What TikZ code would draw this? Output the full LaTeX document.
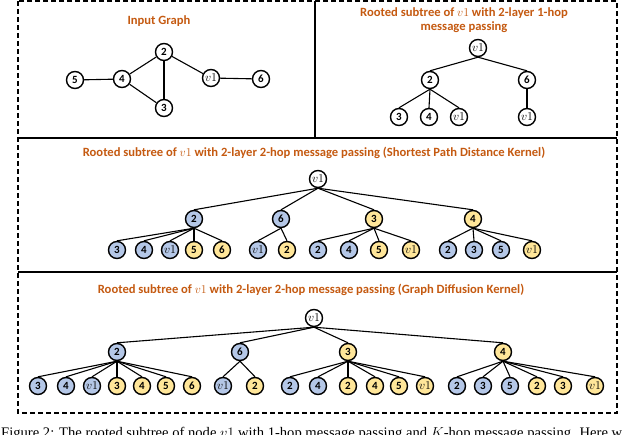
\documentclass[tikz,border=0pt]{standalone}
\usepackage[no-math]{fontspec}
\setmainfont{Carlito}
\newfontfamily\capfont{Liberation Serif}
\definecolor{ttl}{HTML}{C55A11}
\definecolor{nblue}{HTML}{B4C7E7}
\definecolor{nyel}{HTML}{FFE699}
\newcommand{\vv}{{\fontsize{12}{12}\selectfont$v1$}}
\tikzset{
  gn/.style={circle,draw,line width=1.4pt,minimum size=17pt,inner sep=0pt,fill=white,
    font=\bfseries\fontsize{11}{11}\selectfont},
  bn/.style={gn,fill=nblue},
  yn/.style={gn,fill=nyel},
  ttlstyle/.style={text=ttl,font=\bfseries\fontsize{12.6}{14}\selectfont,align=center,inner sep=0pt},
  edge/.style={line width=1.1pt},
  frame/.style={line width=1.1pt,dash pattern=on 5pt off 3pt},
  divider/.style={line width=1.2pt}
}
\begin{document}
\begin{tikzpicture}[x=1pt,y=-1pt]
\clip (0,0) rectangle (640,434);
\fill[white] (0,0) rectangle (640,434);
% frame and dividers
\draw[frame] (18,1) rectangle (617,413);
\draw[divider] (18,138) -- (617,138);
\draw[divider] (315,1) -- (315,138);
\draw[divider] (18,272) -- (617,272);

% ---------- Input graph ----------
\node[ttlstyle] (tA) at (159,21) {Input Graph};
\node[gn] (g2) at (164,52) {2};
\node[gn] (g5) at (75,80) {5};
\node[gn] (g4) at (122,79) {4};
\node[gn] (g3) at (164,108) {3};
\node[gn] (gv) at (211,78) {\vv};
\node[gn] (g6) at (261,79) {6};
\draw[edge] (g5) -- (g4);
\draw[edge] (g4) -- (g2);
\draw[edge] (g4) -- (g3);
\draw[edge] (g2) -- (g3);
\draw[edge] (g2) -- (gv);
\draw[edge] (gv) -- (g6);

% ---------- 1-hop subtree ----------
\node[ttlstyle] (tB) at (464,20) {Rooted subtree of $v1$ with 2-layer 1-hop\\message passing};
\node[gn] (t0) at (478,48) {\vv};
\node[gn] (t2) at (430,80) {2};
\node[gn] (t6) at (527,80) {6};
\draw[edge] (t0.south) -- (t2.north);
\draw[edge] (t0.south) -- (t6.north);
\foreach \n/\px/\lab in {a/399/3,b/429/4,c/459/{\vv}} {
  \node[gn] (t2\n) at (\px,117) {\lab};
  \draw[edge] (t2.south) -- (t2\n.north);
}
\node[gn] (t6a) at (527,117) {\vv};
\draw[edge] (t6.south) -- (t6a.north);

% ---------- SPD kernel ----------
\node[ttlstyle] (tC) at (314,153) {Rooted subtree of $v1$ with 2-layer 2-hop message passing (Shortest Path Distance Kernel)};
\node[gn] (m0) at (318,179) {\vv};
\node[bn] (m2) at (194,219) {2};
\node[bn] (m6) at (281,219) {6};
\node[yn] (m3) at (374,219) {3};
\node[yn] (m4) at (473,219) {4};
\foreach \c in {m2,m6,m3,m4} {\draw[edge] (m0.south) -- (\c.north);}
\foreach \n/\px/\s/\lab in {a/117/bn/3,b/144/bn/4,c/170/bn/{\vv},d/194/yn/5,e/222/yn/6} {
  \node[\s] (m2\n) at (\px,250) {\lab};
  \draw[edge] (m2.south) -- (m2\n.north);
}
\foreach \n/\px/\s/\lab in {a/258/bn/{\vv},b/287/yn/2} {
  \node[\s] (m6\n) at (\px,250) {\lab};
  \draw[edge] (m6.south) -- (m6\n.north);
}
\foreach \n/\px/\s/\lab in {a/318/bn/2,b/349/bn/4,c/379/yn/5,d/411/yn/{\vv}} {
  \node[\s] (m3\n) at (\px,250) {\lab};
  \draw[edge] (m3.south) -- (m3\n.north);
}
\foreach \n/\px/\s/\lab in {a/448/bn/2,b/474/bn/3,c/501/bn/5,d/532/yn/{\vv}} {
  \node[\s] (m4\n) at (\px,250) {\lab};
  \draw[edge] (m4.south) -- (m4\n.north);
}

% ---------- GD kernel ----------
\node[ttlstyle] (tD) at (311,290) {Rooted subtree of $v1$ with 2-layer 2-hop message passing (Graph Diffusion Kernel)};
\node[gn] (b0) at (314,318) {\vv};
\node[bn] (b2) at (117,352) {2};
\node[bn] (b6) at (240,352) {6};
\node[yn] (b3) at (348,352) {3};
\node[yn] (b4) at (503,352) {4};
\foreach \c in {b2,b6,b3,b4} {\draw[edge] (b0.south) -- (\c.north);}
\foreach \n/\px/\s/\lab in {a/38/bn/3,b/66/bn/4,c/92/bn/{\vv},d/117/yn/3,e/142/yn/4,f/166/yn/5,g/192/yn/6} {
  \node[\s] (b2\n) at (\px,386) {\lab};
  \draw[edge] (b2.south) -- (b2\n.north);
}
\foreach \n/\px/\s/\lab in {a/223/bn/{\vv},b/255/yn/2} {
  \node[\s] (b6\n) at (\px,386) {\lab};
  \draw[edge] (b6.south) -- (b6\n.north);
}
\foreach \n/\px/\s/\lab in {a/290/bn/2,b/318/bn/4,c/348/yn/2,d/375/yn/4,e/399/yn/5,f/425/yn/{\vv}} {
  \node[\s] (b3\n) at (\px,386) {\lab};
  \draw[edge] (b3.south) -- (b3\n.north);
}
\foreach \n/\px/\s/\lab in {a/457/bn/2,b/483/bn/3,c/510/bn/5,d/537/yn/2,e/563/yn/3,f/595/yn/{\vv}} {
  \node[\s] (b4\n) at (\px,386) {\lab};
  \draw[edge] (b4.south) -- (b4\n.north);
}

% ---------- caption (cut by the page edge) ----------
\node[anchor=base west,inner sep=0pt,font=\capfont\fontsize{14.6}{16}\selectfont] (cap) at (1,437)
  {Figure 2: The rooted subtree of node $v1$ with 1-hop message passing and $K$-hop message passing. Here w};
\end{tikzpicture}
\end{document}
